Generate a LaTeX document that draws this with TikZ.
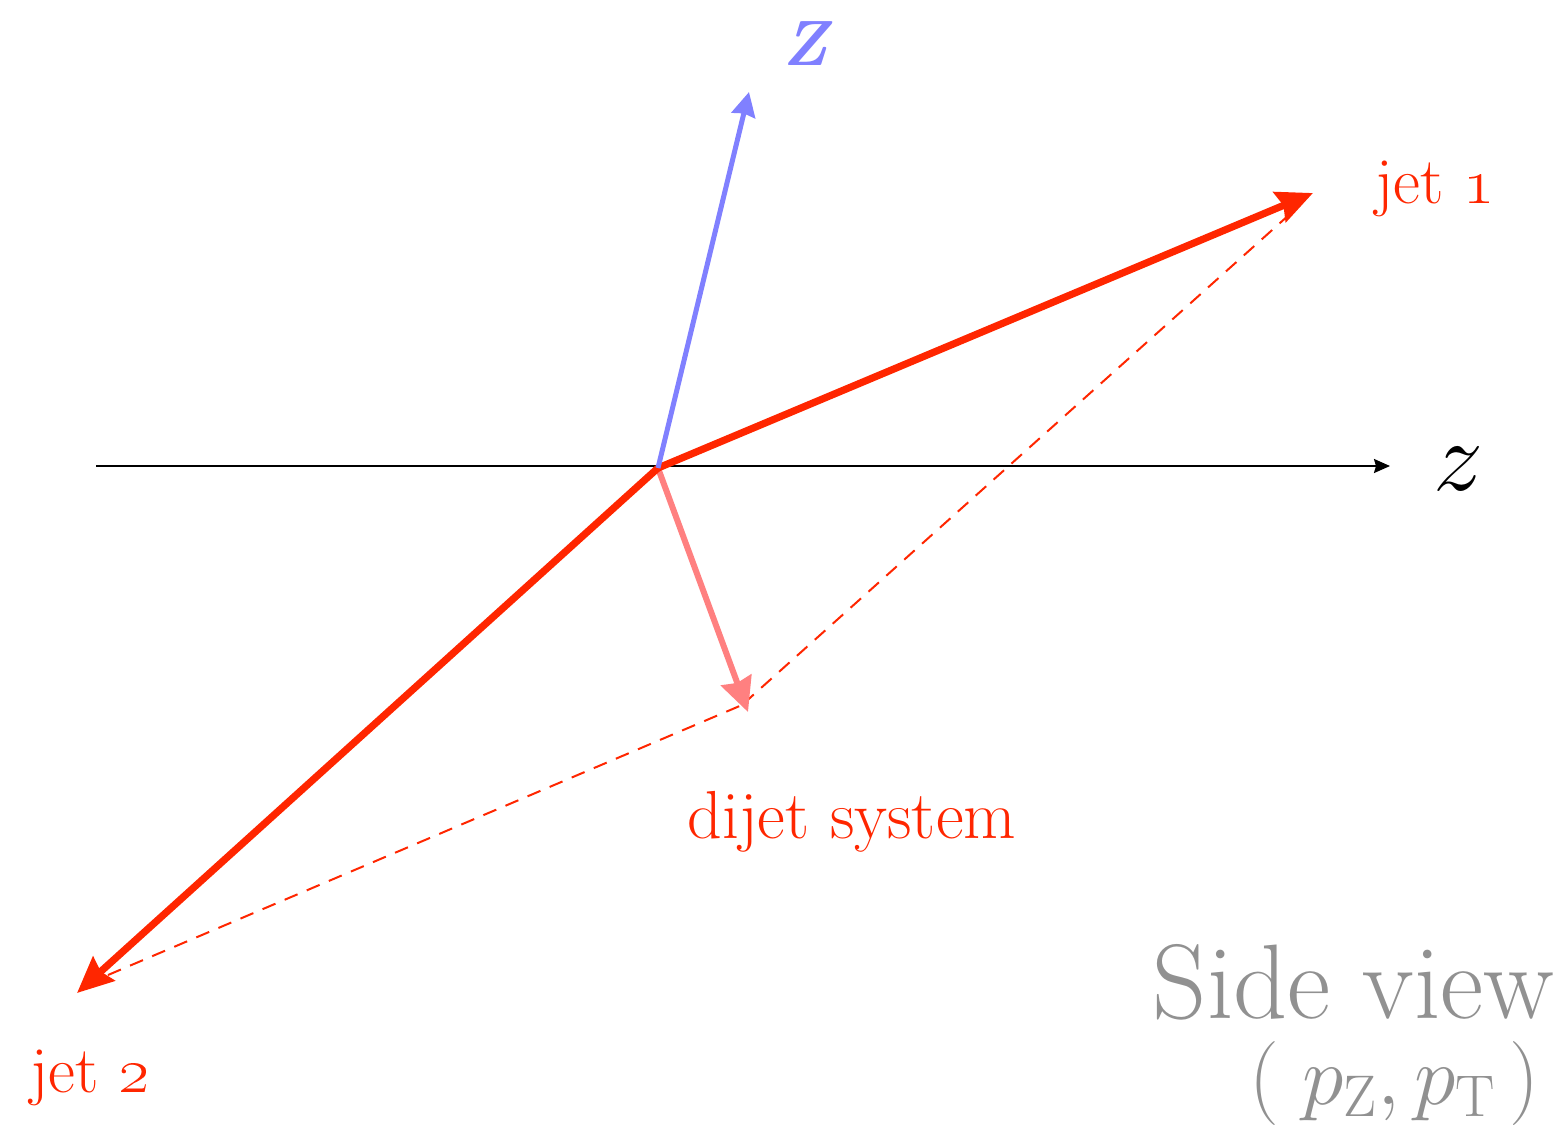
\documentclass[tikz,border=0pt]{standalone}
\usepackage{fix-cm}
\usetikzlibrary{arrows.meta}
\definecolor{jetred}{RGB}{255,38,0}
\definecolor{zblue}{RGB}{128,128,255}
\definecolor{dijpink}{RGB}{255,128,128}
\definecolor{sgray}{RGB}{145,145,145}
\tikzset{
  jetarrow/.style={draw=jetred, line width=3.6pt, -{Stealth[length=18pt,width=16pt,inset=2pt]}},
  zarrow/.style={draw=zblue, line width=2.5pt, -{Stealth[length=12pt,width=12pt,inset=1pt]}},
  dijarrow/.style={draw=dijpink, line width=3pt, -{Stealth[length=17pt,width=16pt,inset=1.5pt]}},
  axisarrow/.style={draw=black, line width=1pt, -{Stealth[length=8pt,width=7pt,inset=1pt]}},
  dashline/.style={draw=jetred, line width=1pt, dash pattern=on 7pt off 5pt},
  redlabel/.style={text=jetred, inner sep=0pt, font=\fontsize{33}{38}\selectfont},
}
\begin{document}
\begin{tikzpicture}[x=0.5pt,y=-0.5pt]
\useasboundingbox (0,0) rectangle (1563,1126);
\coordinate (O) at (658,468);
\coordinate (AxL) at (96,466);
\coordinate (AxR) at (1390,466);
\coordinate (Zt) at (749,92);
\coordinate (J1) at (1313,193);
\coordinate (J2) at (77,993);
\coordinate (D) at (748,712);
\coordinate (J1d) at (1290,214);
\coordinate (J2d) at (108,975);
\coordinate (Dd) at (742,705);
% axis
\draw[axisarrow] (AxL) -- (AxR);
% dashed parallelogram lines
\draw[dashline] (J1d) -- (Dd);
\draw[dashline] (J2d) -- (Dd);
% arrows
\draw[dijarrow] (O) -- (D);
\draw[jetarrow] (O) -- (J2);
\draw[jetarrow] (O) -- (J1);
\draw[zarrow] (O) -- (Zt);
% labels
\node[inner sep=0pt, anchor=base west, font=\fontsize{50}{56}\selectfont] (zlab) at (1433,490) {$z$};
\node[inner sep=0pt, text=zblue, font=\fontsize{32}{36}\selectfont] (Zlab) at (808,44) {\textbf{\textit{Z}}};
\node[redlabel, anchor=base west] (j1lab) at (1375,203) {jet \oldstylenums{1}};
\node[redlabel, anchor=base west] (j2lab) at (30,1092) {jet \oldstylenums{2}};
\node[redlabel, anchor=base west, font=\fontsize{34}{39}\selectfont] (dlab) at (687,838) {dijet system};
\node[inner sep=0pt, text=sgray, anchor=base east, font=\fontsize{53}{58}\selectfont] (sv) at (1555,1018) {Side view};
\node[inner sep=0pt, text=sgray, anchor=base east, font=\fontsize{42}{48}\selectfont] (pp) at (1540,1104) {$(\;p_{\mathrm{Z}},p_{\mathrm{T}}\,)$};
\end{tikzpicture}
\end{document}
